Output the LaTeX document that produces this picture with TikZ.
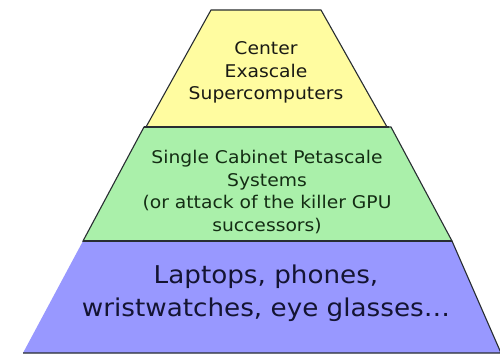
\documentclass[tikz,border=0pt]{standalone}
\usepackage{fontspec}
\setmainfont{DejaVu Sans}[FakeStretch=1.07]
\definecolor{tierY}{RGB}{255,252,160}
\definecolor{tierG}{RGB}{170,240,170}
\definecolor{tierB}{RGB}{152,152,255}
\definecolor{edge}{RGB}{40,45,50}
\definecolor{txtY}{RGB}{25,25,20}
\definecolor{txtG}{RGB}{20,45,20}
\definecolor{txtB}{RGB}{20,20,50}
\tikzset{
  tier/.style={draw=edge, line width=1.1pt, line join=miter},
  tiertext/.style={align=center, inner sep=0pt},
}
\begin{document}
\begin{tikzpicture}[x=1pt, y=-1pt]
\useasboundingbox (0,0) rectangle (500,353);
\fill[white] (0,0) rectangle (500,353);
% bottom tier
\path[tier, fill=tierB] (83,241) -- (452,241) -- (501,353) -- (23,353);
% middle tier
\path[tier, fill=tierG] (144,127) -- (391,127) -- (452,241) -- (83,241) -- cycle;
% top tier
\path[tier, fill=tierY] (211,10) -- (321,10) -- (387,127) -- (146,127) -- cycle;
\draw[edge, line width=1.6pt] (83,241) -- (452,241);
\draw[edge, line width=1.3pt] (144,127) -- (389,127);
% labels
\node[tiertext, font=\fontsize{17.5}{22.5}\selectfont, text=txtY] (top) at (266,72.5)
  {Center\\Exascale\\Supercomputers};
\node[tiertext, font=\fontsize{17.5}{22.8}\selectfont, text=txtG] (mid) at (267,192)
  {Single Cabinet Petascale\\Systems\\(or attack of the killer GPU\\successors)};
\node[tiertext, font=\fontsize{24.5}{33}\selectfont, text=txtB] (bot) at (266,293)
  {Laptops, phones,\\wristwatches, eye glasses…};
\end{tikzpicture}
\end{document}
